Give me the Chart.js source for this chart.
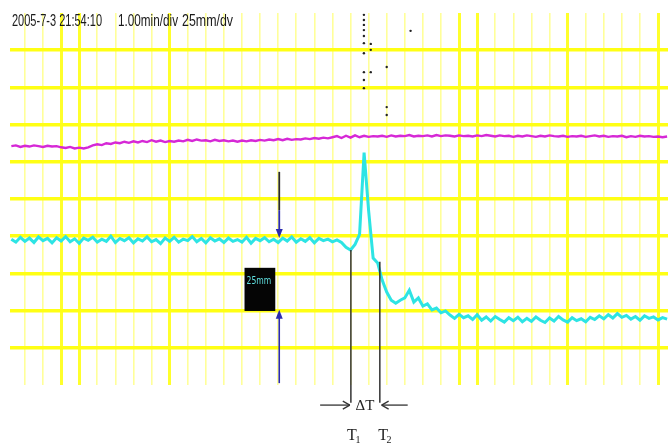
<!DOCTYPE html>
<html><head><meta charset="utf-8">
<script src="https://cdn.jsdelivr.net/npm/chart.js@4/dist/chart.umd.min.js"></script>
<style>html,body{margin:0;padding:0;background:#fff}#wrap{width:672px;height:445px}</style>
</head><body><div id="wrap"><canvas id="c" width="672" height="445"></canvas></div>
<script>
// time base: minutes (1.00 min/div), vertical unit: divisions (25 mm/div)
const T0 = -0.375, DT = 0.125;
const magenta = [
6.42,6.44,6.40,6.43,6.41,6.44,6.42,6.40,6.43,6.41,6.42,
6.39,6.37,6.40,6.36,6.38,6.36,6.39,
6.44,6.47,6.45,6.50,6.48,
6.52,6.50,6.54,6.51,6.55,6.52,6.56,6.53,6.58,6.54,6.57,6.53,6.56,6.54,6.57,
6.55,6.59,6.56,6.60,6.57,6.58,6.55,6.59,6.56,6.58,6.55,6.57,6.54,6.57,6.55,6.58,6.56,6.59,
6.57,6.60,6.58,6.61,6.58,6.62,6.59,6.61,6.60,6.63,6.61,6.64,6.62,6.65,6.63,
6.66,6.69,6.64,6.70,6.65,6.71,6.66,6.70,6.67,6.69,
6.68,6.70,6.67,6.71,6.68,6.70,6.69,6.72,6.68,6.70,
6.69,6.71,6.68,6.72,6.69,6.71,6.70,6.68,6.71,6.69,
6.70,6.68,6.71,6.69,6.72,6.70,6.68,6.71,6.69,6.70,
6.67,6.70,6.68,6.71,6.69,6.67,6.70,6.68,6.71,6.69,
6.68,6.70,6.67,6.69,6.68,6.70,6.67,6.69,6.71,6.68,
6.70,6.67,6.69,6.68,6.70,6.66,6.69,6.67,6.70,6.68,
6.69,6.67,6.68,6.66,6.68
];
const cyan = [
3.92,3.84,3.97,3.86,3.95,3.83,3.98,3.88,3.94,3.82,
3.96,3.87,3.99,3.85,3.93,3.81,3.95,3.89,3.97,3.84,
3.92,3.86,4.00,3.83,3.94,3.88,3.96,3.82,3.93,3.87,
3.98,3.85,3.91,3.80,3.95,3.86,3.97,3.84,3.92,3.88,
3.99,3.85,3.94,3.82,3.96,3.87,3.93,3.83,3.95,3.86,
3.91,3.84,3.97,3.81,3.94,3.88,3.96,3.85,3.92,3.83,
3.95,3.87,3.98,3.84,3.93,3.86,3.96,3.82,3.94,3.88,
3.92,3.85,3.90,3.83,
3.70,3.63,3.78,4.05,6.25,4.69,3.41,3.28,2.82,2.50,
2.28,2.20,2.28,2.34,2.55,2.23,2.34,2.12,2.18,2.02,
2.07,1.94,1.99,
1.88,1.79,1.90,1.81,1.86,1.76,1.89,
1.74,1.83,1.72,1.84,1.76,1.69,1.81,1.73,1.82,1.70,
1.79,1.71,1.83,1.74,1.68,1.80,1.72,1.84,1.75,1.69,
1.81,1.73,1.78,1.70,1.82,1.76,1.86,1.78,1.89,1.80,
1.92,1.82,1.87,1.77,1.84,1.74,1.86,1.79,1.83,1.75,
1.81,1.77
];
const time = magenta.map((_, i) => T0 + i * DT);
const dotT = [9.37,9.37,9.37,9.37,9.37,9.37,9.37,9.37,9.37,9.37,9.56,9.56,9.56,10.0,10.0,10.0,10.66];
const dotY = [9.95,9.81,9.68,9.54,9.38,9.19,8.92,8.41,8.20,7.98,9.17,9.01,8.41,8.55,7.47,7.26,9.52];
const gridT = [0,0.5,1,1.5,2,2.5,3,3.5,4,4.5,5,5.5,6,6.5,7,7.5,8,8.5,9,9.5,10,10.5,11,11.5,12,12.5,13,13.5,14,14.5,15,15.5,16,16.5,17,17.5];
const strongT = [1,1.5,4,12,12.5,15,17.5];
const gridY = [1,2,3,4,5,6,7,8,9];
const header = ['2005-7-3 21:54:10', '1.00min/div', '25mm/dv'];
const boxLabel = '25mm';
const dtLabel = 'ΔT';
const t1Label = ['T', '1'];
const t2Label = ['T', '2'];

const pts = (arr) => arr.map((v, i) => ({x: time[i], y: v}));

function fitText(ctx, str, left, right, base, font, color) {
  ctx.save();
  ctx.font = font;
  ctx.fillStyle = color;
  ctx.textBaseline = 'alphabetic';
  ctx.textAlign = 'left';
  const w = ctx.measureText(str).width;
  ctx.translate(left, base);
  ctx.scale((right - left) / w, 1);
  ctx.fillText(str, 0, 0);
  ctx.restore();
}
function arrowHead(ctx, x, y, dir, len, half, color) {
  // dir: 'down','up','left','right' filled head
  ctx.save();
  ctx.fillStyle = color;
  ctx.beginPath();
  if (dir === 'down') { ctx.moveTo(x, y); ctx.lineTo(x - half, y - len); ctx.lineTo(x + half, y - len); }
  if (dir === 'up') { ctx.moveTo(x, y); ctx.lineTo(x - half, y + len); ctx.lineTo(x + half, y + len); }
  ctx.closePath(); ctx.fill();
  ctx.restore();
}
function line(ctx, x1, y1, x2, y2, color, w) {
  ctx.save(); ctx.strokeStyle = color; ctx.lineWidth = w;
  ctx.beginPath(); ctx.moveTo(x1, y1); ctx.lineTo(x2, y2); ctx.stroke(); ctx.restore();
}

const annot = {
  id: 'annot',
  afterDatasetsDraw(chart) {
    const {ctx, scales: {x, y}} = chart;
    const X = v => x.getPixelForValue(v), Y = v => y.getPixelForValue(v);
    // header
    fitText(ctx, header[0], 12, 102, 26, '17px "Liberation Sans Narrow", "Liberation Sans", sans-serif', '#1a1a1a');
    fitText(ctx, header[1], 118, 178, 26, '17px "Liberation Sans Narrow", "Liberation Sans", sans-serif', '#1a1a1a');
    fitText(ctx, header[2], 182, 233, 26, '17px "Liberation Sans Narrow", "Liberation Sans", sans-serif', '#1a1a1a');
    // downward marker arrow
    const ax = X(7.03);
    line(ctx, ax, Y(5.73), ax, Y(4.70), '#2a2a2a', 1.8);
    line(ctx, ax, Y(4.70), ax, Y(4.05), '#2b2bb0', 1.8);
    arrowHead(ctx, ax, Y(3.95), 'down', 9, 3.5, '#2b2bb0');
    // upward marker arrow
    line(ctx, ax, Y(0.05), ax, Y(1.85), '#2b2bb0', 1.6);
    arrowHead(ctx, ax, Y(2.02), 'up', 9, 3.5, '#2b2bb0');
    // black label box
    ctx.save();
    ctx.fillStyle = '#050505';
    ctx.fillRect(X(6.07), Y(3.15), X(6.92) - X(6.07), Y(1.99) - Y(3.15));
    ctx.restore();
    fitText(ctx, boxLabel, X(6.07) + 2, X(6.92) - 4, Y(2.72), '11px "DejaVu Sans", sans-serif', '#5fe0e0');
    // tau lines
    line(ctx, X(9.01), Y(3.63), X(9.01), Y(-0.48), '#333', 1.5);
    line(ctx, X(9.81), Y(3.31), X(9.81), Y(-0.48), '#333', 1.5);
    // delta T arrows
    const ay = Y(-0.54);
    line(ctx, X(8.16), ay, X(8.98), ay, '#333', 1.3);
    line(ctx, X(8.98), ay, X(8.98) - 7, ay - 4, '#333', 1.3);
    line(ctx, X(8.98), ay, X(8.98) - 7, ay + 4, '#333', 1.3);
    line(ctx, X(10.58), ay, X(9.86), ay, '#333', 1.3);
    line(ctx, X(9.86), ay, X(9.86) + 7, ay - 4, '#333', 1.3);
    line(ctx, X(9.86), ay, X(9.86) + 7, ay + 4, '#333', 1.3);
    ctx.save();
    ctx.fillStyle = '#222';
    ctx.font = '15px "Liberation Serif", serif';
    ctx.textAlign = 'center';
    ctx.textBaseline = 'middle';
    ctx.fillText(dtLabel, X(9.40), ay + 1);
    ctx.textBaseline = 'alphabetic';
    ctx.font = '16px "Liberation Serif", serif';
    ctx.fillText(t1Label[0], X(9.04), 440);
    ctx.fillText(t2Label[0], X(9.90), 440);
    ctx.font = '10px "Liberation Serif", serif';
    ctx.fillText(t1Label[1], X(9.04) + 6, 443);
    ctx.fillText(t2Label[1], X(9.90) + 6, 443);
    ctx.restore();
  }
};

new Chart(document.getElementById('c'), {
  type: 'line',
  data: {
    datasets: [
      {label: 'Upper trace', data: pts(magenta), borderColor: 'rgb(214,40,214)', borderWidth: 2.4, pointRadius: 0, tension: 0},
      {label: 'Lower trace', data: pts(cyan), borderColor: 'rgb(45,228,228)', borderWidth: 3, pointRadius: 0, tension: 0},
      {type: 'scatter', label: 'Dots', data: dotT.map((t, i) => ({x: t, y: dotY[i]})), backgroundColor: '#222', borderWidth: 0, pointRadius: 1.2}
    ]
  },
  options: {
    responsive: false,
    animation: false,
    devicePixelRatio: 1,
    layout: {padding: {left: 10, right: 0, top: 13, bottom: 60}},
    plugins: {legend: {display: false}, tooltip: {enabled: false}, title: {display: false}},
    scales: {
      x: {
        type: 'linear', min: -0.412, max: 17.775,
        ticks: {display: false},
        border: {display: false},
        afterBuildTicks: s => { s.ticks = gridT.map(v => ({value: v})); },
        grid: {
          drawTicks: false,
          color: c => strongT.includes(c.tick && c.tick.value) ? 'rgba(255,255,20,0.9)' : 'rgba(255,255,70,0.55)',
          lineWidth: c => strongT.includes(c.tick && c.tick.value) ? 3 : 1.6
        }
      },
      y: {
        type: 'linear', min: 0, max: 10,
        ticks: {display: false},
        border: {display: false},
        afterBuildTicks: s => { s.ticks = gridY.map(v => ({value: v})); },
        grid: {drawTicks: false, color: 'rgb(255,255,20)', lineWidth: 3.5}
      }
    }
  },
  plugins: [annot]
});
</script>
</body></html>
